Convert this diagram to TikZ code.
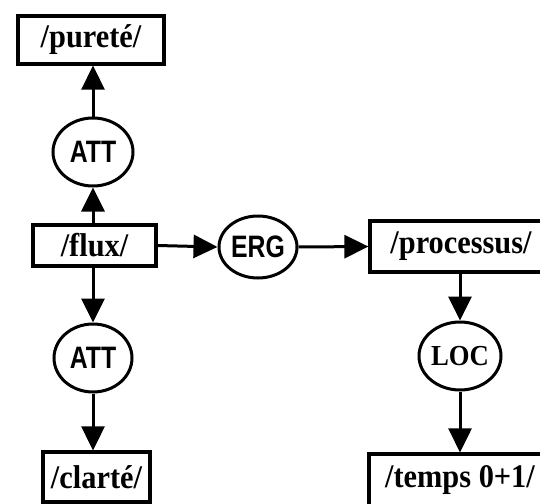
\documentclass[tikz,border=0pt]{standalone}
\usepackage{fontspec}
\setmainfont{Liberation Serif}
\newfontfamily\conceptfont{Liberation Serif}[FakeStretch=0.92]
\newfontfamily\relsans{Liberation Sans}[FakeStretch=0.8]
\newfontfamily\relserif{Liberation Serif}[FakeStretch=0.92]
\usetikzlibrary{arrows.meta,shapes.geometric}

\tikzset{
  concept/.style={draw, line width=3.2pt, rectangle, inner sep=0pt,
    font=\conceptfont\bfseries\fontsize{33}{33}\selectfont},
  relation/.style={draw, line width=3pt, ellipse, inner sep=0pt,
    font=\relsans\bfseries\fontsize{31}{31}\selectfont},
  link/.style={line width=3pt, -{Triangle[length=24pt,width=23pt]}}
}

\begin{document}
\begin{tikzpicture}[x=1pt,y=-1pt]
  \useasboundingbox (0,0) rectangle (540,503);
  \clip (0,0) rectangle (540,503);

  % left column
  \node[concept, minimum width=146pt, minimum height=48pt] (purete) at (91,40) {/pureté/};
  \node[relation, minimum width=80pt, minimum height=68pt] (att1) at (93,152) {ATT};
  \node[concept, minimum width=123pt, minimum height=41pt] (flux) at (94.5,245.5) {/flux/};
  \node[relation, minimum width=78pt, minimum height=68pt] (att2) at (93,358) {ATT};
  \node[concept, minimum width=107pt, minimum height=50pt] (clarte) at (96.5,477) {/clarté/};

  % middle and right column
  \node[relation, minimum width=78pt, minimum height=62pt] (erg) at (258,247) {ERG};
  \node[concept, minimum width=182pt, minimum height=51pt] (proc) at (461,246.5) {/processus/};
  \node[relation, minimum width=82pt, minimum height=68pt,
        font=\relserif\bfseries\fontsize{29}{29}\selectfont] (loc) at (460,356) {LOC};
  \node[concept, minimum width=182pt, minimum height=66pt, text depth=20pt] (temps) at (460,487) {/temps 0+1/};

  % connectors
  \draw[link] (flux.north -| att1) -- (att1.south);
  \draw[link] (att1.north) -- (purete.south -| att1);
  \draw[link] (flux.south -| att2) -- (att2.north);
  \draw[link] (att2.south) -- (clarte.north -| att2);
  \draw[link] (flux.east) -- (erg.west);
  \draw[link] (erg.east) -- (proc.west);
  \draw[link] (proc.south -| loc) -- (loc.north);
  \draw[link] (loc.south) -- (temps.north -| loc);
\end{tikzpicture}
\end{document}
